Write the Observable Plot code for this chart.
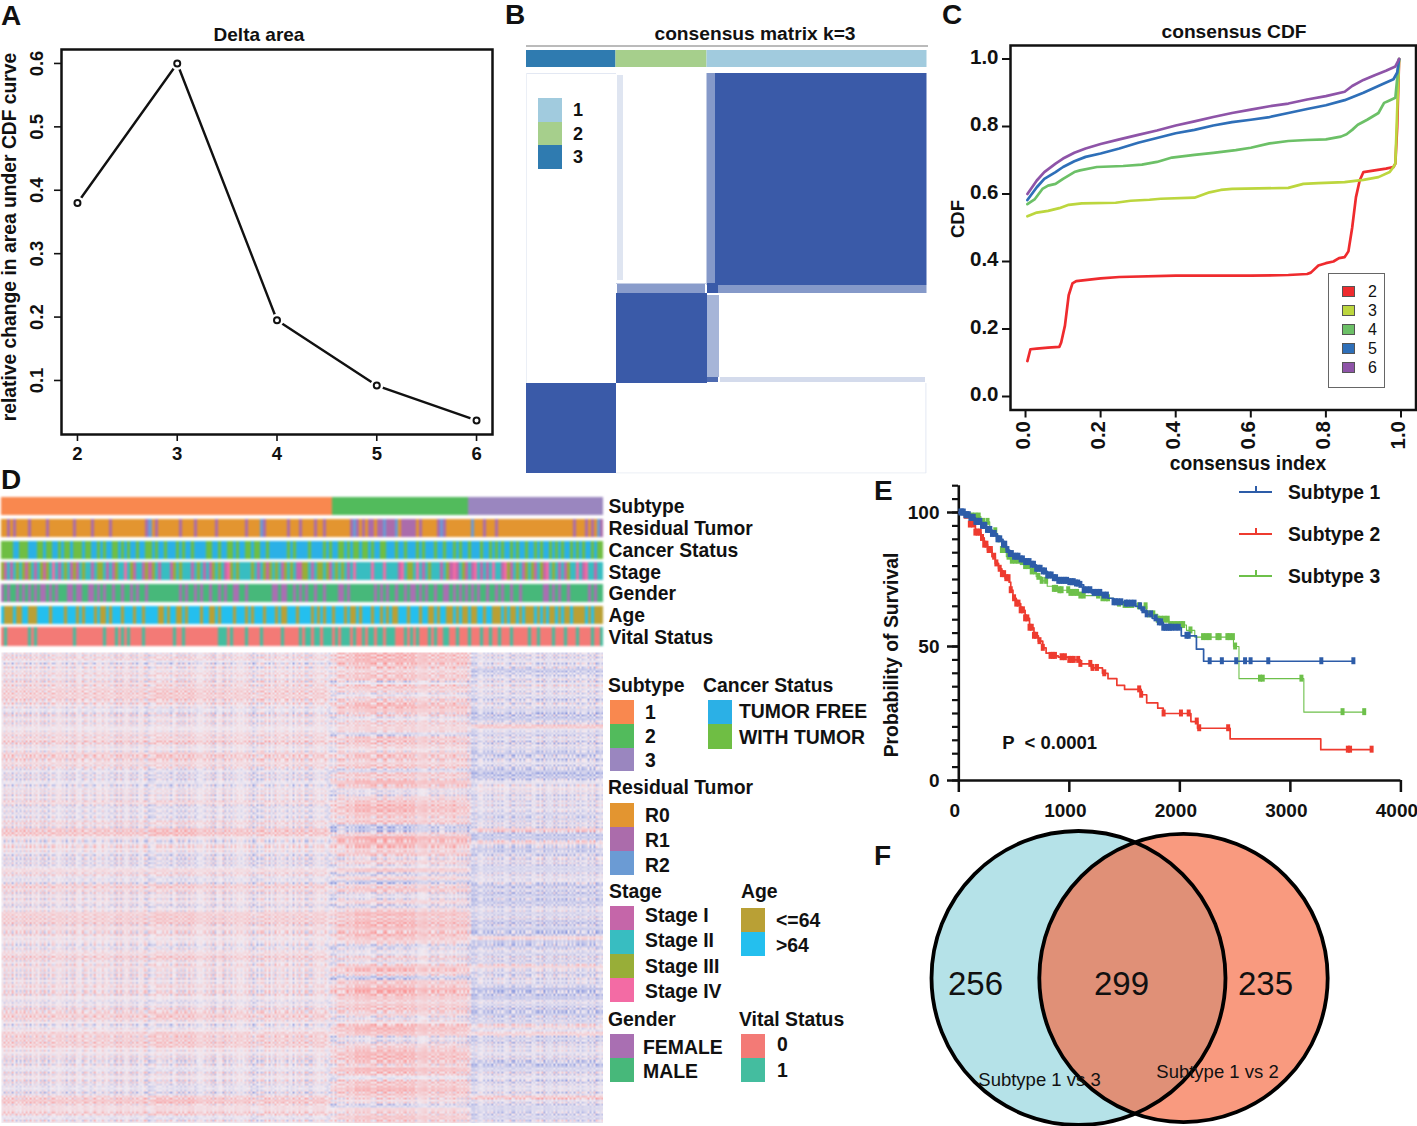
<!DOCTYPE html>
<html><head><meta charset="utf-8">
<script src="https://cdn.jsdelivr.net/npm/d3@7"></script>
<script src="https://cdn.jsdelivr.net/npm/@observablehq/plot@0.6"></script>
<style>
html,body{margin:0;background:#fff}
#page{position:relative;width:1417px;height:1126px;overflow:hidden;font-family:"Liberation Sans",Arial,sans-serif;color:#111}
#page svg{position:absolute;display:block;background:transparent}
.t{position:absolute;white-space:nowrap;line-height:1;font-weight:bold;transform:translateY(-50%)}
.s{position:absolute}
</style></head><body><div id="page"></div>
<script>
// ---------- Panel A ----------
const deltaK = [2,3,4,5,6];
const deltaArea = [0.38,0.6,0.195,0.092,0.037];
// ---------- Panel B ----------
const consensusGroupNames = ["3","2","1"];
const consensusGroupSizes = [89.5,91,220];
const consensusGroupColors = ["#2f7bb0","#a6cf8c","#a1cbde"];
// sample ranges x1,x2,y1,y2 and consensus value
const consensusBlocks = [
 [189,400.5,0,212,1],[180.5,189,0,212,.62],[192,400.5,212,220,.62],[181,192,210,220,1],
 [91,179,210,220,.6],[90,181,220,310,1],[181,193,222,304,.45],[181,192,304,309,.9],
 [194,399,304,309,.22],[0,90,310,400,1],[91,97,2,207,.16],
 [0,90,0,1,.14],[0,1,0,310,.1],[90,400,399.4,400.4,.1],[399.4,400.4,310,400,.14],[90,181,210,211,.3]
];
// ---------- Panel C ----------
const cdfK2 = [[.005,.105],[.013,.14],[.03,.142],[.06,.145],[.09,.147],[.095,.16],[.105,.21],[.115,.30],[.125,.335],[.135,.342],[.2,.35],[.25,.354],[.4,.358],[.6,.358],[.7,.36],[.75,.363],[.76,.367],[.78,.388],[.8,.395],[.82,.4],[.835,.41],[.85,.413],[.86,.43],[.87,.50],[.88,.59],[.89,.64],[.9,.665],[.93,.67],[.96,.675],[.98,.68],[.985,.69],[.99,.8],[.995,1]];
const cdfK3 = [[.005,.534],[.03,.545],[.06,.55],[.09,.558],[.115,.568],[.15,.572],[.24,.574],[.28,.58],[.33,.583],[.36,.586],[.45,.589],[.47,.597],[.49,.605],[.52,.612],[.55,.615],[.7,.618],[.74,.63],[.78,.632],[.85,.635],[.9,.642],[.94,.65],[.97,.665],[.98,.68],[.985,.69],[.99,.85],[.995,1]];
const cdfK4 = [[.005,.57],[.025,.585],[.045,.615],[.06,.625],[.08,.63],[.1,.645],[.13,.665],[.145,.67],[.19,.68],[.26,.683],[.31,.687],[.35,.695],[.39,.708],[.45,.716],[.5,.722],[.56,.73],[.6,.737],[.65,.75],[.7,.757],[.75,.76],[.8,.762],[.84,.77],[.855,.777],[.87,.79],[.885,.805],[.91,.82],[.94,.84],[.955,.87],[.965,.875],[.985,.885],[.995,1]];
const cdfK5 = [[.005,.582],[.03,.62],[.05,.645],[.08,.665],[.1,.68],[.13,.697],[.16,.71],[.2,.72],[.25,.735],[.3,.752],[.35,.766],[.4,.78],[.45,.79],[.5,.803],[.55,.813],[.6,.82],[.65,.828],[.7,.84],[.75,.852],[.8,.863],[.85,.878],[.9,.9],[.95,.925],[.98,.94],[.99,.96],[.995,1]];
const cdfK6 = [[.005,.6],[.03,.64],[.05,.665],[.08,.69],[.1,.705],[.13,.722],[.16,.735],[.2,.748],[.25,.762],[.3,.775],[.35,.788],[.4,.803],[.45,.815],[.5,.828],[.55,.84],[.6,.85],[.65,.86],[.7,.868],[.75,.88],[.8,.89],[.85,.903],[.87,.92],[.9,.938],[.93,.952],[.96,.965],[.985,.978],[.995,1]];
const cdfNames = ["2","3","4","5","6"];
const cdfColors = ["#ef2b2e","#bcd63e","#6cc067","#2e6fb8","#8e54a8"];
// ---------- Panel D : annotation tracks, one character per sample ----------
const trackNames = ["Subtype","Residual Tumor","Cancer Status","Stage","Gender","Age","Vital Status"];
const subtypeSizes = [110,45,45];
const residualTrack = "0010100001 0000010000 0000100000 1000001000 0000000012 0100000001 0000100000 0100000000 0100002100 0000010001 0000100100 0000001210 1011011211 1201111101 0000012100 0000002000 1000100000 0000000000 0000000000 1000101021";
const cancerTrack = "1111001110 0011011001 0110111011 0010100110 1010010011 0100100010 1001000011 0010011010 0110110010 0000010100 0010000101 0011010110 1101001100 0100100010 1000100100 1010010001 0010101001 0100100101 0010101001 0101001011";
const stageTrack = "2010121202 1012021310 1210201211 0122101021 1312011020 2101110212 1110121010 2121032121 1112101202 1210212100 2210122120 1212101311 1113111311 1103122131 0121110120 3012010310 1013110320 1210212012 0312101021 1310311011";
const genderTrack = "0101101010 1010010101 1100100110 0101011011 0110101101 1111111110 1011010110 1101011001 1011111111 0010011010 1011011011 1100101111 1111010101 1011010010 1011011001 0101010101 1011010110 1101111111 0010101101 1111101011";
const ageTrack = "1000100110 0011110111 1011101011 1010010111 0111011011 1100101100 1011110110 0101111011 1010111011 1010011101 1110101011 0111010010 1110110101 0011101110 1100101100 1010010011 0110001010 0101000101 0100101001 0000101000";
const vitalTrack = "0100000001 0100000000 0000100000 0000100010 1010000100 0000000100 1000000000 0011101000 0100001000 0001000001 0110110111 0101110100 1011011011 1000101010 0010100110 0100010001 0010010001 0000010010 0001000100 0100001001";
const subtypeLabels = ["1","2","3"], subtypeColors = ["#f9884f","#52bb5c","#9a86bf"];
const residualLabels = ["R0","R1","R2"], residualColors = ["#e39530","#ab6cab","#6b9bd4"];
const cancerLabels = ["TUMOR FREE","WITH TUMOR"], cancerColors = ["#2bb0e6","#6fbe44"];
const stageLabels = ["Stage I","Stage II","Stage III","Stage IV"], stageColors = ["#c566a9","#38bdc1","#98ae38","#f36ba4"];
const ageLabels = ["<=64",">64"], ageColors = ["#b9a035","#24bfee"];
const genderLabels = ["FEMALE","MALE"], genderColors = ["#a96fb2","#47b87a"];
const vitalLabels = ["0","1"], vitalColors = ["#f37a76","#44bd9f"];
// ---------- Panel D : heatmap, row profile per subtype (0 blue .. 4 neutral .. 8 red) ----------
const heatRowsSubtype1 = "4534454556 6654344444 5564466553 3333444533 3354774354 3333553365 4443466655 5443456454 4445454345 6643466664 4434344433 36755634";
const heatRowsSubtype2 = "7776566365 3567653555 2665466562 6576335677 6561158775 6353625156 3352576776 7652335367 5166876566 5347763356 7765763667 65425565";
const heatRowsSubtype3 = "3333123343 3233211373 2323212321 0134433333 2233711621 2332233312 1212323121 1611323263 2332011321 1226362233 3311233233 37322223";
const heatColumnSizes = [82,35,33];
const heatColumnOffset = "4544354454 4354543453 5435454345 4543452354 5435344534 4543544354 4522454354 5434543454 5213545464 5645465456 5464564546 5465452135 3434343343 4343433434 3434343434";
const heatColumnGain = "5555555555 5555555555 5555555555 5555555777 7777777775 5555555555 5555555555 5555555555 5555555577 7777777777 7775555555 5555555555 5555555555 5555555555 5555555555";
// fine detail of single genes and samples
const heatGeneDetail = "2716403852 6137048251 7360285143 0825716342 5173806241 3860251774 1728540362 6041738257 2583716040 7152036847 4068271535 1736502841 8250361747 3617280451 0742568316 5281730467 2860415738 7043625181 1582740363 6305182747 4271860353 8153072646 0628371545 715384";
const heatSampleDetail = "3716284051 5072836147 1850376242 6283170454 0764158323 7241650838 1536072842 4870231656 2615843071 7038261545 3162708454 8051736242 4627185030 1748360525 6205384171 3871062546 5136748202 0482516373 7354120868 2068473151 6817250434 4530761822 1726384050 5081647323 6273815040 3548106272 7120536848 0635281747 4816372051 2371508646";
// ---------- Panel E ----------
const kmSubtype1 = [[0,100],[50,99],[100,98],[150,96.5],[200,95],[250,93.5],[300,92],[350,90],[400,88],[430,86],[460,84.5],[500,83.5],[550,82.5],[600,81.5],[650,80.5],[700,79],[750,78],[800,76.5],[850,75.5],[900,74.5],[1000,74],[1050,73.5],[1100,73],[1130,71],[1200,70],[1300,69],[1350,68],[1400,66.5],[1500,66],[1600,65],[1650,63.5],[1700,62],[1750,60.5],[1800,59],[1850,57],[2013,54],[2150,49],[2215,44.5],[3570,44.5]];
const kmSubtype2 = [[0,100],[50,98],[100,95.5],[150,92.5],[200,90.5],[230,88],[260,86],[300,83.5],[330,81],[360,79],[390,77],[420,75.5],[455,74],[470,71],[490,68],[520,66],[560,63.5],[600,60.5],[640,57],[680,54],[720,52],[760,49.5],[790,47.5],[830,46.5],[900,46],[1000,45],[1100,43.5],[1200,42],[1300,40],[1350,38],[1430,35.5],[1500,34],[1650,32],[1700,29],[1800,27],[1850,25],[2100,22],[2160,19.5],[2455,15.5],[3275,11.5],[3740,11.5]];
const kmSubtype3 = [[0,100],[100,98.5],[200,96.5],[280,93],[340,90],[390,86],[430,83.5],[480,82],[550,81.5],[600,80],[650,78],[700,76],[750,74.5],[800,72.5],[850,71.5],[900,71],[1000,70],[1100,69],[1300,68],[1400,66],[1500,65.5],[1600,65],[1700,62],[1800,60],[1900,58],[2060,56],[2135,53.5],[2485,50],[2535,38],[3122,25.5],[3680,25.5]];
const censorSubtype1 = [15,30,45,60,75,90,105,120,135,150,165,180,195,210,225,240,255,270,285,300,325,350,375,400,420,440,460,480,500,520,540,560,580,600,620,640,660,680,700,720,740,760,780,800,820,840,860,880,900,920,940,960,980,1000,1020,1040,1060,1080,1100,1130,1160,1190,1220,1250,1280,1310,1340,1400,1420,1440,1470,1510,1530,1560,1590,1640,1670,1700,1740,1780,1810,1830,1850,1870,1890,1910,1930,1960,1990,2060,2080,2270,2380,2510,2590,2640,2800,3280,3570];
const censorSubtype2 = [100,130,150,170,190,210,230,250,270,290,320,340,370,390,410,430,450,470,500,520,540,560,580,600,620,640,660,680,700,730,760,830,850,870,930,960,1000,1020,1040,1080,1100,1190,1210,1250,1316,1632,1650,1853,2010,2080,2153,2175,2437,3520,3540,3735];
const censorSubtype3 = [120,150,180,220,260,330,360,390,420,450,480,510,540,570,600,630,660,690,720,750,790,860,880,910,930,990,1010,1040,1070,1100,1130,1260,1300,1330,1350,1450,1500,1520,1540,1570,1630,1690,1720,1760,1800,1830,1860,1890,1920,1950,1980,2010,2030,2096,2210,2240,2270,2340,2360,2430,2450,2480,2500,2725,2750,3100,3472,3668];
const kmNames = ["Subtype 1","Subtype 2","Subtype 3"];
const kmColors = ["#2d5ca8","#ee3b2f","#6dc04a"];
// ---------- Panel F ----------
const vennSetNames = ["Subtype 1 vs 3","Subtype 1 vs 2"];
const vennSetSizes = [555,534];
const vennSetCentre = [198,303];
const vennColors = ["#b5e2e8","#f6663c"];
const vennCounts = [256,299,235];
const vennCountPos = [95,241,385];
const vennLabelPos = [[159,260],[337,252]];

const page = document.getElementById("page");
const FONT = '"Liberation Sans", Arial, sans-serif';
function place(svg,left,top){svg.style.left=left+"px";svg.style.top=top+"px";page.appendChild(svg);return svg;}
function label(text,x,y,size,opt={}){const d=document.createElement("div");d.className="t";d.textContent=text;
  d.style.left=x+"px";d.style.top=y+"px";d.style.fontSize=size+"px";
  if(opt.center)d.style.transform="translate(-50%,-50%)"+(opt.rotate?" rotate(-90deg)":"");
  if(opt.weight)d.style.fontWeight=opt.weight;
  page.appendChild(d);return d;}
function swatch(x,y,w,h,c){const d=document.createElement("div");d.className="s";
  Object.assign(d.style,{left:x+"px",top:y+"px",width:w+"px",height:h+"px",background:c});page.appendChild(d);return d;}
const clean = s => s.replace(/ /g,"");

// panel letters
[["A",1,16],["B",505,15],["C",942,15],["D",1,480],["E",874,491],["F",874,856]].forEach(([t,x,y])=>label(t,x,y,28));

// ===== A =====
{
 const rows=deltaK.map((k,i)=>({k,v:deltaArea[i]}));
 place(Plot.plot({width:500,height:480,marginLeft:61,marginTop:49,marginRight:8,marginBottom:46,
  style:{fontFamily:FONT,fontWeight:"bold",fontSize:"18.5px",color:"#111"},
  x:{domain:[1.84,6.16]},y:{domain:[0.0148,0.622]},
  marks:[
    Plot.axisX({ticks:deltaK,tickSize:7,tickPadding:5,tickFormat:d3.format("d"),label:null,strokeWidth:1.6}),
    Plot.axisY({ticks:[.1,.2,.3,.4,.5,.6],tickSize:7,tickRotate:-90,tickPadding:12,tickFormat:d3.format(".1f"),strokeWidth:1.6,label:null}),
    Plot.line(rows,{x:"k",y:"v",stroke:"#111",strokeWidth:2.4}),
    Plot.dot(rows,{x:"k",y:"v",r:6.5,fill:"#fff",stroke:"none"}),
    Plot.dot(rows,{x:"k",y:"v",r:3,fill:"#fff",stroke:"#111",strokeWidth:2}),
    Plot.frame({stroke:"#111",strokeWidth:2.5})
  ]}),0,0);
 label("Delta area",259,34,19,{center:true});
 label("relative change in area under CDF curve",10,237,19.3,{center:true,rotate:true});
}

// ===== B =====
{
 const starts = d3.cumsum([0,...consensusGroupSizes]);
 const bar = consensusGroupNames.map((n,i)=>({n,x1:starts[i],x2:starts[i+1],c:consensusGroupColors[i]}));
 const blocks = consensusBlocks.map(([x1,x2,y1,y2,v])=>({x1,x2,y1,y2,v}));
 place(Plot.plot({width:402,height:429,margin:0,
   x:{domain:[0,402],axis:null},y:{domain:[401,-28],axis:null},
   color:{type:"linear",domain:[0,1],range:["#ffffff","#3a5aa8"]},
   marks:[
     Plot.ruleY([-27.5],{stroke:"#777",strokeWidth:1}),
     Plot.rect(bar,{x1:"x1",x2:"x2",y1:-23,y2:-6,fill:{value:"c",scale:null}}),
     Plot.rect(blocks,{x1:"x1",x2:"x2",y1:"y1",y2:"y2",fill:"v"})
   ]}),526,45);
 label("consensus matrix k=3",755,34,19.2,{center:true});
 ["1","2","3"].forEach((n,i)=>{const c=consensusGroupColors[consensusGroupNames.indexOf(n)];
   swatch(537.5,98+i*23.5,24,23.5,c);label(n,573,110+i*23.7,18);});
}

// ===== C =====
{
 const series=[cdfK2,cdfK3,cdfK4,cdfK5,cdfK6];
 const rows=series.flatMap((s,i)=>s.map(([x,y])=>({k:cdfNames[i],x,y})));
 const tk=[0,.2,.4,.6,.8,1], f=d3.format(".1f");
 place(Plot.plot({width:477,height:480,marginLeft:70,marginTop:45,marginRight:1.5,marginBottom:70.5,
   style:{fontFamily:FONT,fontWeight:"bold",fontSize:"20.5px",color:"#111"},
   x:{domain:[-0.04,1.04]},y:{domain:[-0.04,1.04]},
   color:{domain:cdfNames,range:cdfColors},
   marks:[
     Plot.axisX({ticks:tk,tickSize:8,text:null,tickFormat:null,label:null,strokeWidth:2}),
     Plot.axisX({ticks:tk,tickSize:0,tickRotate:-90,tickPadding:11,dx:-2.5,tickFormat:f,label:null}),
     Plot.axisY({ticks:tk,tickSize:8,text:null,tickFormat:null,label:null,strokeWidth:2}),
     Plot.axisY({ticks:tk,tickSize:0,tickPadding:12,dy:-2,tickFormat:f,label:null}),
     Plot.line(rows,{x:"x",y:"y",stroke:"k",strokeWidth:2.7,z:"k"}),
     Plot.frame({stroke:"#111",strokeWidth:2.5})
   ]}),940,0);
 label("consensus CDF",1234,32,19.2,{center:true});
 label("consensus index",1248,464,19.3,{center:true});
 label("CDF",958,219,18.5,{center:true,rotate:true});
 const box=swatch(1328,273,55,113,"#fff");box.style.border="1px solid #666";
 cdfNames.forEach((n,i)=>{const s=swatch(1342,286+i*18.9,11,9,cdfColors[i]);s.style.border="1px solid #555";
   label(n,1368,292+i*18.9,16,{weight:"normal"});});
}

// ===== D tracks =====
{
 const tracks=[
  [...subtypeSizes.flatMap((n,i)=>Array(n).fill(i))],
  clean(residualTrack),clean(cancerTrack),clean(stageTrack),clean(genderTrack),clean(ageTrack),clean(vitalTrack)];
 const dom=[],rng=[];
 [subtypeColors,residualColors,cancerColors,stageColors,genderColors,ageColors,vitalColors].forEach((cs,t)=>cs.forEach((c,k)=>{dom.push(t+":"+k);rng.push(c);}));
 const cells=tracks.flatMap((tr,t)=>Array.from(tr,(k,i)=>({i,track:trackNames[t],key:t+":"+k})));
 place(Plot.plot({width:770,height:160,marginLeft:1,marginRight:167,marginTop:7.3,marginBottom:4.5,
   style:{fontFamily:FONT,fontWeight:"bold",fontSize:"19.3px",color:"#111"},
   x:{type:"band",domain:d3.range(200),padding:0,round:false,axis:null},
   y:{domain:trackNames,paddingInner:.17,paddingOuter:0,round:false},
   color:{type:"ordinal",domain:dom,range:rng},
   marks:[
     Plot.cell(cells,{x:"i",y:"track",fill:"key",imageFilter:"blur(1px)",shapeRendering:"crispEdges"}),
     Plot.axisY({anchor:"right",tickSize:0,tickPadding:5,dy:0.5,label:null})
   ]}),0,490);
}
// ===== D heatmap =====
{
 const rowsByGroup=[clean(heatRowsSubtype1),clean(heatRowsSubtype2),clean(heatRowsSubtype3)];
 const off=clean(heatColumnOffset),gain=clean(heatColumnGain);
 const genes=clean(heatGeneDetail),samples=clean(heatSampleDetail);
 const nCol=samples.length,nRow=genes.length;
 const groupOf=heatColumnSizes.flatMap((n,i)=>Array(n).fill(i));
 const cells=[];
 for(let j=0;j<nRow;j++)for(let i=0;i<nCol;i++){
   const ci=i>>1,rj=Math.min(j>>1,rowsByGroup[0].length-1);
   const r=(+rowsByGroup[groupOf[ci]][rj]-4)/4;
   const g=(+genes[j]-4)/4,s=(+samples[i]-4)/4;
   cells.push({x:i+.5,y:j+.5,v:.04+(+gain[ci]/5)*r*.42+(+off[ci]-4)/4*.2+g*s*.5+g*.04});
 }
 place(Plot.plot({width:603,height:471,margin:0,marginLeft:1,
   x:{domain:[0,nCol],axis:null},
   y:{domain:[nRow,0],axis:null},
   color:{type:"linear",domain:[-1,0,1],range:["#7a8cdc","#f2ebf2","#fb9494"],clamp:true},
   marks:[Plot.raster(cells,{x:"x",y:"y",fill:"v",width:nCol,height:nRow,x1:0,x2:nCol,y1:0,y2:nRow})]
 }),0,652);
}
// ===== D legends =====
function legend(title,tx,ty,sx,sy,labels,colors,lx,ly){
  label(title,tx,ty,19.4);
  labels.forEach((l,i)=>{swatch(sx,sy[i],24,sy[i+1]-sy[i],colors[i]);label(l,lx,ly[i]+.7,19.4);});
}
legend("Subtype",608,685.5,609.5,[700,724,747.5,771],subtypeLabels,subtypeColors,645,[712,736,760]);
legend("Cancer Status",703,685.5,707.5,[700,724,748.5],cancerLabels,cancerColors,739,[711,737]);
legend("Residual Tumor",608,787.5,609.5,[802.5,826.5,851,875],residualLabels,residualColors,645,[815.5,840,865.5]);
legend("Stage",609,892,609.5,[906,930,954,978,1002],stageLabels,stageColors,645,[915.5,940.5,966,991.5]);
legend("Age",741,892,741,[908,932,956],ageLabels,ageColors,776,[920,945]);
legend("Gender",608,1019.5,609.5,[1033.5,1057.5,1081.5],genderLabels,genderColors,643,[1047,1071]);
legend("Vital Status",739,1019.5,741,[1033.5,1057.5,1081.5],vitalLabels,vitalColors,777,[1044.5,1070.5]);

// ===== E =====
{
 const curves=[kmSubtype1,kmSubtype2,kmSubtype3];
 const censors=[censorSubtype1,censorSubtype2,censorSubtype3];
 const stepAt=(c,t)=>{let v=c[0][1];for(const [x,y] of c){if(x<=t)v=y;else break;}return v;};
 const line=i=>curves[i].map(([t,v])=>({t,v}));
 const cens=i=>censors[i].map(t=>({t,v:stepAt(curves[i],t)}));
 const order=[2,1,0];
 const xt=[0,1000,2000,3000,4000];
 place(Plot.plot({width:537,height:355,marginLeft:78,marginRight:16,marginTop:10,marginBottom:50,
   style:{fontFamily:FONT,fontWeight:"bold",fontSize:"19px",color:"#111"},
   x:{domain:[0,4000],range:[78.3,520.4]},y:{domain:[0,110],range:[305,10.2]},
   marks:[
     Plot.axisY({ticks:d3.range(0,111,5),tickSize:6,tickFormat:null,label:null,strokeWidth:2.2,text:null}),
     Plot.axisY({ticks:[0,50,100],tickSize:11,tickPadding:8,label:null,strokeWidth:2.5,tickFormat:d3.format("d")}),
     Plot.axisX({ticks:xt,tickSize:12,text:null,tickFormat:null,label:null,strokeWidth:2.5}),
     Plot.axisX({ticks:xt,tickSize:0,tickPadding:23,dx:-4,label:null,tickFormat:d3.format("d")}),
     Plot.ruleX([0],{y1:0,y2:110,strokeWidth:2.6,stroke:"#111"}),
     Plot.ruleY([0],{x1:0,x2:4000,strokeWidth:2.6,stroke:"#111"}),
     ...order.flatMap(i=>[
       Plot.line(line(i),{x:"t",y:"v",curve:"step-after",stroke:kmColors[i],strokeWidth:i==2?1.1:1.7}),
       Plot.ruleX(cens(i),{x:"t",y1:d=>d.v-1.3,y2:d=>d.v+1.3,stroke:kmColors[i],strokeWidth:4})
     ]),
     Plot.text(["P  < 0.0001"],{x:822,y:14,text:d=>d,fontSize:18.5,fontWeight:"bold",fill:"#111"})
   ]}),880,475);
 label("Probability of Survival",892,655,19.4,{center:true,rotate:true});
 kmNames.forEach((n,i)=>{const y=491+i*42;
   swatch(1239,y,33,i==2?1.6:2,kmColors[i]);swatch(1255,y-5,1.6,6,kmColors[i]);
   label(n,1288,y+2,19.3);});
}

// ===== F =====
{
 const sets=vennSetNames.map((n,i)=>({n,size:vennSetSizes[i],x:vennSetCentre[i],c:vennColors[i],o:i?0.66:1}));
 place(Plot.plot({width:537,height:306,margin:0,
   style:{fontFamily:FONT},
   x:{domain:[0,537],axis:null},y:{domain:[306,0],axis:null},
   r:{type:"sqrt",domain:[0,555],range:[0,147]},
   marks:[
     Plot.dot(sets,{x:"x",y:157.5,r:"size",fill:{value:"c",scale:null},fillOpacity:"o",stroke:"none"}),
     Plot.dot(sets,{x:"x",y:157.5,r:"size",fill:"none",stroke:"#000",strokeWidth:3.8}),
     Plot.text(vennCounts,{x:(d,i)=>vennCountPos[i],y:164,text:d=>String(d),fontSize:33,fill:"#111"}),
     Plot.text(vennSetNames,{x:(d,i)=>vennLabelPos[i][0],y:(d,i)=>vennLabelPos[i][1],text:d=>d,fontSize:18.5,fill:"#111"})
   ]}),880,820);
}
</script></body></html>
